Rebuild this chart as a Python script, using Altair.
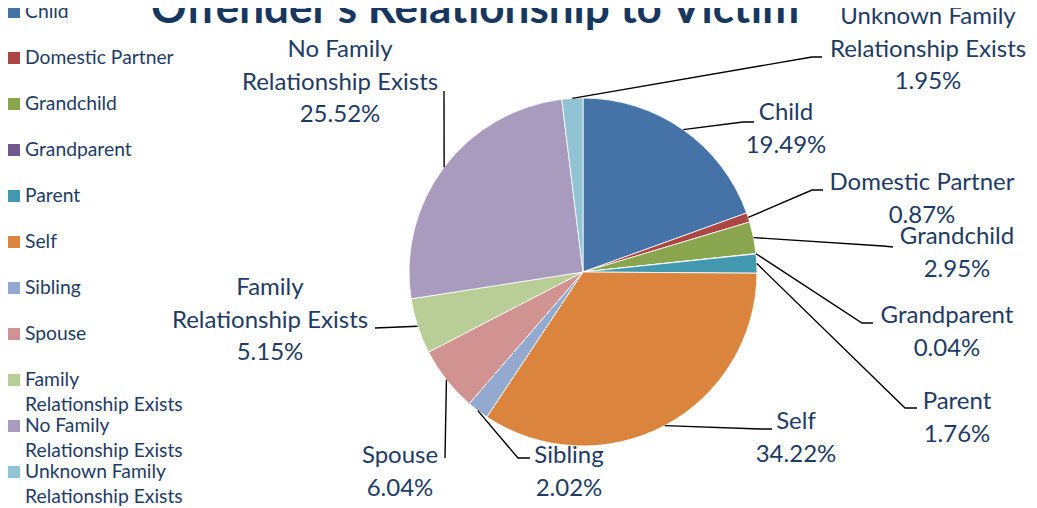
import math
import altair as alt
import pandas as pd

# ---------------- data ----------------
categories = [
    "Child", "Domestic Partner", "Grandchild", "Grandparent", "Parent", "Self",
    "Sibling", "Spouse", "Family Relationship Exists",
    "No Family Relationship Exists", "Unknown Family Relationship Exists",
]
values = [19.49, 0.87, 2.95, 0.04, 1.76, 34.22, 2.02, 6.04, 5.15, 25.52, 1.95]
colors = [
    "#4572A7", "#AA4643", "#89A54E", "#71588F", "#4198AF", "#DB843D",
    "#93A9CF", "#D19392", "#B9CD96", "#A99BBD", "#92C3D4",
]
legend_lines = [
    ["Child"], ["Domestic Partner"], ["Grandchild"], ["Grandparent"], ["Parent"],
    ["Self"], ["Sibling"], ["Spouse"], ["Family", "Relationship Exists"],
    ["No Family", "Relationship Exists"], ["Unknown Family", "Relationship Exists"],
]
label_lines = [
    ["Child"], ["Domestic Partner"], ["Grandchild"], ["Grandparent"], ["Parent"],
    ["Self"], ["Sibling"], ["Spouse"], ["Family", "Relationship Exists"],
    ["No Family", "Relationship Exists"], ["Unknown Family", "Relationship Exists"],
]
title_text = "Offender's Relationship to Victim"

# ---------------- layout (page pixels) ----------------
OFF = 8
CX, CY, R = 583 - OFF, 272 - OFF, 174
LABEL_LH = 32.5
label_pos = [
    (786, 113), (922, 183), (957, 237), (947, 316), (957, 402), (796, 422),
    (569, 456), (400, 456), (270, 288), (340, 50), (928, 17),
]
elbows = [
    [(743, 122), (754, 122)],
    [(812, 190), (823, 190)],
    [(883, 246), (893, 247)],
    [(862, 323), (873, 323)],
    [(905, 408), (917, 408)],
    [(760, 429), (772, 429)],
    [(518, 458), (530, 458)],
    [(445, 458)],
    [(375, 328)],
    [(444, 91)],
    [(812, 57), (822, 57)],
]
LEG_X, LEG_Y0, LEG_STEP, LEG_LH = 14, 12, 46, 25
TEXT_COLOR = "#1F3B63"
FONT = "Lato"

# ---------------- tables ----------------
pie_df = pd.DataFrame({"category": categories, "value": values,
                       "idx": list(range(len(categories)))})

total = sum(values)
line_rows = []
cum = 0.0
for i, (c, v) in enumerate(zip(categories, values)):
    mid = (cum + v / 2) / total * 2 * math.pi
    cum += v
    sx = CX + R * math.sin(mid)
    sy = CY - R * math.cos(mid)
    pts = [(sx, sy)] + [(x - OFF, y - OFF) for x, y in elbows[i]]
    for j, (x, y) in enumerate(pts):
        line_rows.append({"category": c, "seq": j, "px": x, "py": y})
lines_df = pd.DataFrame(line_rows)

label_rows = []
for i, (c, v) in enumerate(zip(categories, values)):
    lines = label_lines[i] + [f"{v:.2f}%"]
    x0, y0 = label_pos[i]
    for j, t in enumerate(lines):
        label_rows.append({"category": c, "text": t, "px": x0 - OFF,
                           "py": y0 - OFF + j * LABEL_LH})
labels_df = pd.DataFrame(label_rows)

leg_sq_rows, leg_txt_rows = [], []
for i, c in enumerate(categories):
    yc = LEG_Y0 + i * LEG_STEP - OFF
    leg_sq_rows.append({"category": c, "px": LEG_X - OFF, "py": yc})
    for j, t in enumerate(legend_lines[i]):
        leg_txt_rows.append({"text": t, "px": 25 - OFF, "py": yc + j * LEG_LH})
leg_sq_df = pd.DataFrame(leg_sq_rows)
leg_txt_df = pd.DataFrame(leg_txt_rows)

title_df = pd.DataFrame({"text": [title_text], "px": [475 - OFF], "py": [23 - OFF]})

color_scale = alt.Scale(domain=categories, range=colors)
PX = alt.X("px:Q", scale=None, axis=None)
PY = alt.Y("py:Q", scale=None, axis=None)

arc = alt.Chart(pie_df).mark_arc(radius=R, stroke="white", strokeWidth=0.8).encode(
    theta=alt.Theta("value:Q", stack=True),
    color=alt.Color("category:N", scale=color_scale, legend=None),
    order=alt.Order("idx:Q"),
    x=alt.value(CX), y=alt.value(CY),
)

leaders = alt.Chart(lines_df).mark_line(color="black", strokeWidth=1.4).encode(
    x=PX, y=PY, detail="category:N", order="seq:Q",
)

labels = alt.Chart(labels_df).mark_text(
    font=FONT, fontSize=24, color=TEXT_COLOR, align="center", baseline="middle",
).encode(x=PX, y=PY, text="text:N")

leg_sq = alt.Chart(leg_sq_df).mark_square(size=144, opacity=1).encode(
    x=PX, y=PY, color=alt.Color("category:N", scale=color_scale, legend=None),
)
leg_txt = alt.Chart(leg_txt_df).mark_text(
    font=FONT, fontSize=19.3, color=TEXT_COLOR, align="left", baseline="middle",
).encode(x=PX, y=PY, text="text:N")

title = alt.Chart(title_df).mark_text(
    font=FONT, fontSize=44, fontWeight="bold", color="#17375E",
    align="center", baseline="alphabetic",
).encode(x=PX, y=PY, text="text:N")

chart = alt.layer(arc, leaders, labels, leg_sq, leg_txt, title).properties(
    width=1021, height=500, autosize="none", padding=0,
).configure_view(stroke=None)

chart.save("out.html", embed_options={"renderer": "svg", "actions": False})
